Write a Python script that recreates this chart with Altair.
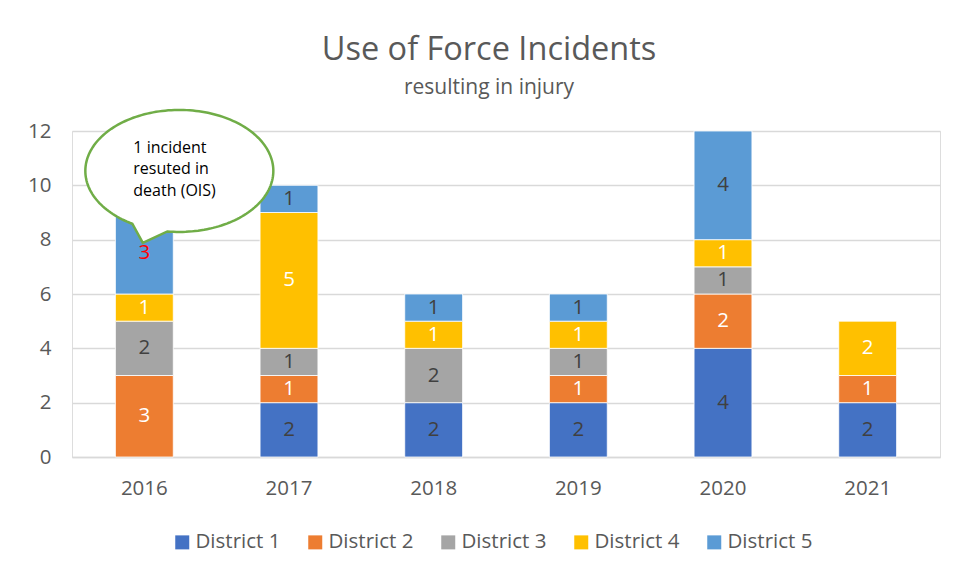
import altair as alt
import pandas as pd
import numpy as np

# ---- data ----
years = ["2016", "2017", "2018", "2019", "2020", "2021"]
districts = ["District 1", "District 2", "District 3", "District 4", "District 5"]
district_1 = [0, 2, 2, 2, 4, 2]
district_2 = [3, 1, 0, 1, 2, 1]
district_3 = [2, 1, 2, 1, 1, 0]
district_4 = [1, 5, 1, 1, 1, 2]
district_5 = [3, 1, 1, 1, 4, 0]
colors = ["#4472C4", "#ED7D31", "#A5A5A5", "#FFC000", "#5B9BD5"]
y_ticks = [0, 2, 4, 6, 8, 10, 12]

callout_year = "2016"
callout_value = 10.53
callout_lines = ["1 incident", "resuted in", "death (OIS)"]

FONT = "Open Sans"
GREY = "#595959"

rows = []
for i, (name, vals) in enumerate(zip(districts, [district_1, district_2, district_3, district_4, district_5])):
    for yr, v in zip(years, vals):
        if v > 0:
            rows.append({"year": yr, "district": name, "order": i, "value": v})
df = pd.DataFrame(rows)

x_scale = alt.Scale(domain=years, paddingInner=0.6, paddingOuter=0.3)
x_enc = alt.X(
    "year:N",
    sort=years,
    scale=x_scale,
    axis=alt.Axis(title=None, labelAngle=0, ticks=False, domain=True, domainColor="#D9D9D9",
                  domainWidth=1.5, labelFontSize=20.5, labelColor=GREY, labelFont=FONT,
                  labelPadding=21, grid=False),
)
y_scale = alt.Scale(domain=[0, 12], nice=False)

base = alt.Chart(df)

bars = base.mark_bar(stroke="white", strokeWidth=0.8).encode(
    x=x_enc,
    y=alt.Y("value:Q", stack="zero", scale=y_scale,
            axis=alt.Axis(title=None, values=y_ticks, ticks=False, domain=False,
                          gridColor="#D9D9D9", gridWidth=1.5, labelFontSize=20.5,
                          labelColor=GREY, labelFont=FONT, labelPadding=21, minExtent=59)),
    color=alt.Color("district:N", scale=alt.Scale(domain=districts, range=colors),
                    legend=alt.Legend(orient="none", legendX=100, legendY=401,
                                      direction="horizontal", title=None,
                                      symbolType="square", symbolSize=196, symbolStrokeWidth=0,
                                      labelFontSize=20.5, labelColor=GREY, labelFont=FONT,
                                      columnPadding=24, labelOffset=3)),
    order=alt.Order("order:Q", sort="ascending"),
)

labels = base.transform_window(
    cum="sum(value)", sort=[alt.SortField("order")], groupby=["year"], frame=[None, 0]
).transform_calculate(
    mid="datum.cum - datum.value / 2",
    kind="(datum.year == '2016' && datum.district == 'District 5') ? 'red' : "
         "((datum.district == 'District 2' || datum.district == 'District 4') ? 'light' : 'dark')",
).mark_text(fontSize=20.5, font=FONT, baseline="middle").encode(
    x=alt.X("year:N", sort=years, scale=x_scale),
    y=alt.Y("mid:Q", scale=y_scale),
    text="value:Q",
    color=alt.Color("kind:N", scale=alt.Scale(domain=["dark", "light", "red"],
                                              range=["#404040", "#FFFFFF", "#FF0000"]), legend=None),
)

# ---- speech bubble (ellipse with tail), built as a symbol path ----
r = 94.0
cx, rx, ry = 35 / r, 1.0, 61 / r
t0 = np.arccos(-12 / 94)
t1 = np.arccos(-47 / 94) - 2 * np.pi
ts = np.linspace(t0, t1, 180)
pts = [(cx + rx * np.cos(t), ry * np.sin(t)) for t in ts]
tip = (-1.5 / r, 72 / r)
bubble_path = "M" + " L".join(f"{px:.4f},{py:.4f}" for px, py in pts) + f" L{tip[0]:.4f},{tip[1]:.4f} Z"

callout_df = pd.DataFrame({"year": [callout_year], "value": [callout_value], "txt": [callout_lines]})

bubble = alt.Chart(callout_df).mark_point(
    shape=bubble_path, size=(2 * r) ** 2, filled=True, fill="white", stroke="#70AD47",
    strokeWidth=2.5, opacity=1, fillOpacity=1, strokeOpacity=1,
).encode(
    x=alt.X("year:N", sort=years, scale=x_scale),
    y=alt.Y("value:Q", scale=y_scale),
)

bubble_text = alt.Chart(callout_df).mark_text(
    align="left", baseline="middle", fontSize=16, font=FONT, color="#000000",
    lineHeight=21.5, dx=-11, dy=-23,
).encode(
    x=alt.X("year:N", sort=years, scale=x_scale),
    y=alt.Y("value:Q", scale=y_scale),
    text="txt",
)

chart = alt.layer(bars, labels, bubble, bubble_text).resolve_scale(
    color="independent"
).properties(
    width=868,
    height=326,
    padding={"left": 5, "top": 25, "right": 5, "bottom": 5},
    title=alt.TitleParams(
        text="Use of Force Incidents", subtitle="resulting in injury",
        fontSize=32.5, subtitleFontSize=21, color=GREY, subtitleColor=GREY,
        font=FONT, subtitleFont=FONT, fontWeight="normal", anchor="middle",
        offset=6.5, subtitlePadding=11, dx=-17,
    ),
).configure_view(stroke=None).configure(background="white")

chart.save("out.html", embed_options={"renderer": "svg", "actions": False})
